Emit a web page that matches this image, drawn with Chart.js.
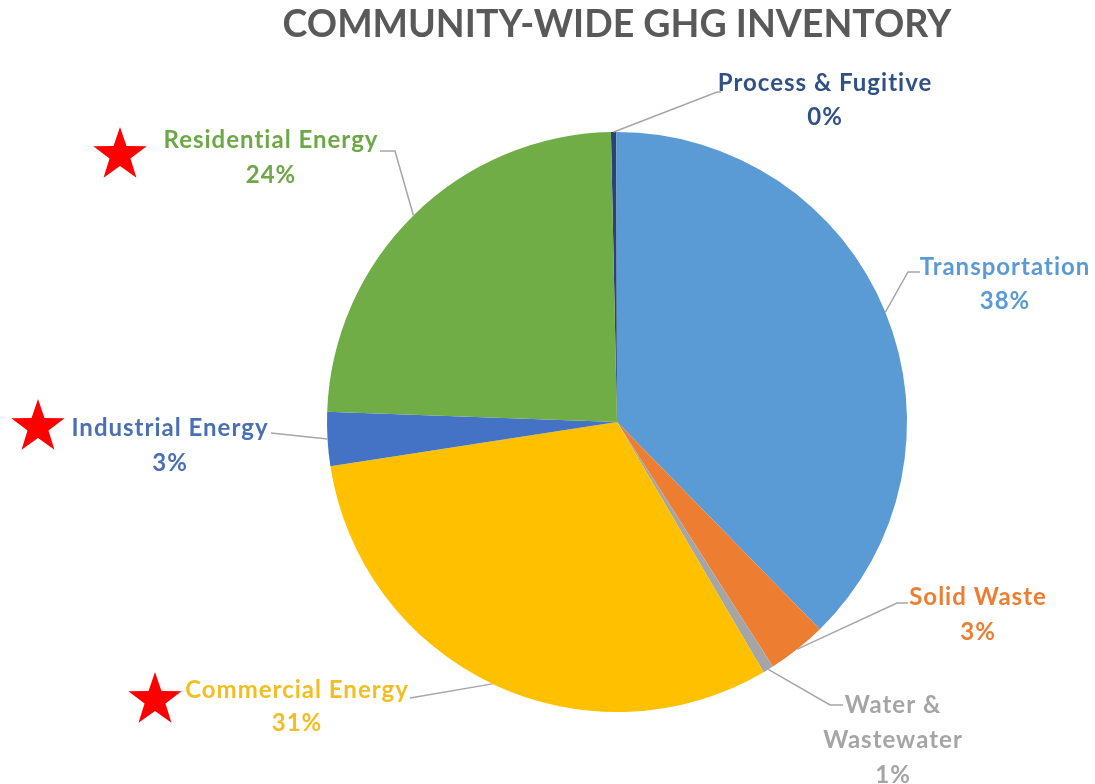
<!DOCTYPE html>
<html>
<head>
<meta charset="utf-8">
<title>Community-Wide GHG Inventory</title>
<script src="https://cdn.jsdelivr.net/npm/chart.js@4.4.1/dist/chart.umd.min.js"></script>
<style>
    html, body {
        margin: 0;
        padding: 0;
        background: #ffffff;
    }
    #wrap {
        position: relative;
        width: 1095px;
        height: 784px;
    }
</style>
</head>
<body>
<div id="wrap">
    <canvas id="ghgChart" width="1095" height="784"></canvas>
</div>
<script>
// Sectors, clockwise from 12 o'clock
const sectors = [
    'Process & Fugitive',
    'Transportation',
    'Solid Waste',
    'Water & Wastewater',
    'Commercial Energy',
    'Industrial Energy',
    'Residential Energy'
];

// Share of emissions (%)
const shares = [0.3, 37.7, 3.3, 0.6, 31.0, 3.0, 24.1];

// Percent labels as printed on the chart
const shareLabels = ['0%', '38%', '3%', '1%', '31%', '3%', '24%'];

// Label text lines (some wrap)
const labelLines = [
    ['Process & Fugitive', '0%'],
    ['Transportation', '38%'],
    ['Solid Waste', '3%'],
    ['Water &', 'Wastewater', '1%'],
    ['Commercial Energy', '31%'],
    ['Industrial Energy', '3%'],
    ['Residential Energy', '24%']
];

const sliceColors = ['#264478', '#5B9BD5', '#ED7D31', '#A5A5A5', '#FFC000', '#4472C4', '#70AD47'];
const textColors = ['#2F5184', '#5B9BD5', '#ED7D31', '#A5A5A5', '#F2BE22', '#4A6FB5', '#6DA846'];

// Where each data label sits and how its leader line bends
const labelLayout = [
    { x: 825, y: 83, bend: [717, 92], end: [721, 92] },
    { x: 1005, y: 267, bend: [908, 272], end: [920, 272] },
    { x: 978, y: 597, bend: [897, 603], end: [908, 603] },
    { x: 893, y: 705, bend: [830, 705], end: [843, 705] },
    { x: 297, y: 690, bend: null, end: [410, 698] },
    { x: 170, y: 428, bend: null, end: [271, 433] },
    { x: 271, y: 140, bend: [395, 151], end: [380, 151] }
];

// Red star markers next to the energy sectors
const starMarks = [
    { x: 120, y: 155 },
    { x: 38, y: 427 },
    { x: 155, y: 700 }
];

const LINE_HEIGHT = [34, 34, 35, 35, 33, 35, 35];

/**
 * Draw a five-pointed star
 */
function drawStar(ctx, cx, cy, outer, inner) {
    ctx.beginPath();
    for (let i = 0; i < 10; i++) {
        const r = i % 2 === 0 ? outer : inner;
        const a = -Math.PI / 2 + i * Math.PI / 5;
        const px = cx + r * Math.cos(a);
        const py = cy + r * Math.sin(a);
        if (i === 0) ctx.moveTo(px, py);
        else ctx.lineTo(px, py);
    }
    ctx.closePath();
    ctx.fill();
}

// Title, leader lines, data labels and stars
const annotationPlugin = {
    id: 'ghgAnnotations',
    afterDraw(chart) {
        const ctx = chart.ctx;
        const meta = chart.getDatasetMeta(0);

        ctx.save();

        // Title
        ctx.fillStyle = '#595959';
        ctx.font = 'bold 37.5px Lato, "Open Sans", sans-serif';
        ctx.textAlign = 'center';
        ctx.textBaseline = 'middle';
        ctx.fillText('COMMUNITY-WIDE GHG INVENTORY', 617, 25);

        // Leader lines start on the pie edge at each slice's middle angle
        ctx.strokeStyle = '#A6A6A6';
        ctx.lineWidth = 1.5;
        meta.data.forEach((arc, i) => {
            const mid = (arc.startAngle + arc.endAngle) / 2;
            const sx = arc.x + arc.outerRadius * Math.cos(mid);
            const sy = arc.y + arc.outerRadius * Math.sin(mid);
            const lay = labelLayout[i];
            ctx.beginPath();
            ctx.moveTo(sx, sy);
            if (lay.bend) ctx.lineTo(lay.bend[0], lay.bend[1]);
            ctx.lineTo(lay.end[0], lay.end[1]);
            ctx.stroke();
        });

        // Data labels
        ctx.font = 'bold 24px Lato, "Open Sans", sans-serif';
        ctx.letterSpacing = '1px';
        labelLines.forEach((lines, i) => {
            const lay = labelLayout[i];
            ctx.fillStyle = textColors[i];
            lines.forEach((line, j) => {
                ctx.fillText(line, lay.x, lay.y + j * LINE_HEIGHT[i]);
            });
        });
        ctx.letterSpacing = '0px';

        // Stars
        ctx.fillStyle = '#FF0000';
        starMarks.forEach(s => drawStar(ctx, s.x, s.y, 28, 11));

        ctx.restore();
    }
};

new Chart(document.getElementById('ghgChart'), {
    type: 'pie',
    data: {
        labels: sectors,
        datasets: [{
            data: shares,
            backgroundColor: sliceColors,
            borderWidth: 0
        }]
    },
    options: {
        responsive: false,
        animation: false,
        rotation: -1.2,
        layout: {
            padding: { left: 327, right: 188, top: 132, bottom: 72 }
        },
        plugins: {
            legend: { display: false },
            title: { display: false },
            tooltip: {
                callbacks: {
                    label: function (context) {
                        return context.label + ': ' + shareLabels[context.dataIndex];
                    }
                }
            }
        }
    },
    plugins: [annotationPlugin]
});
</script>
</body>
</html>
